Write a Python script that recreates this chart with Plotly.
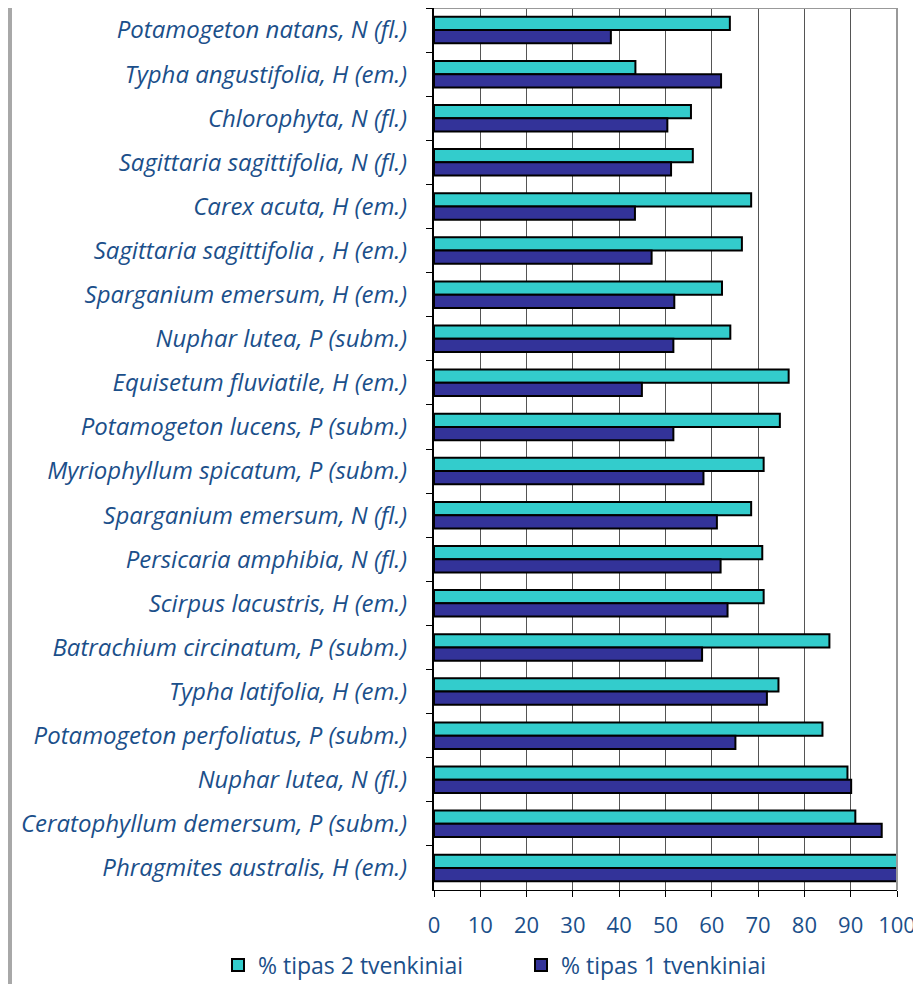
import plotly.graph_objects as go

categories = [
    "Potamogeton natans, N (fl.)",
    "Typha angustifolia, H (em.)",
    "Chlorophyta, N (fl.)",
    "Sagittaria sagittifolia, N (fl.)",
    "Carex acuta, H (em.)",
    "Sagittaria sagittifolia , H (em.)",
    "Sparganium emersum, H (em.)",
    "Nuphar lutea, P (subm.)",
    "Equisetum fluviatile, H (em.)",
    "Potamogeton lucens, P (subm.)",
    "Myriophyllum spicatum, P (subm.)",
    "Sparganium emersum, N (fl.)",
    "Persicaria amphibia, N (fl.)",
    "Scirpus lacustris, H (em.)",
    "Batrachium circinatum, P (subm.)",
    "Typha latifolia, H (em.)",
    "Potamogeton perfoliatus, P (subm.)",
    "Nuphar lutea, N (fl.)",
    "Ceratophyllum demersum, P (subm.)",
    "Phragmites australis, H (em.)",
]
tipas2 = [63.9, 43.5, 55.5, 55.9, 68.5, 66.5, 62.2, 64.0, 76.6, 74.7,
          71.2, 68.5, 70.9, 71.2, 85.4, 74.4, 83.9, 89.3, 91.0, 100.0]
tipas1 = [38.2, 62.0, 50.4, 51.2, 43.4, 47.0, 51.9, 51.7, 44.9, 51.7,
          58.2, 61.1, 61.9, 63.4, 57.9, 71.9, 65.1, 90.1, 96.7, 100.0]
x_ticks = [0, 10, 20, 30, 40, 50, 60, 70, 80, 90, 100]

TEXT = "#1B4F8A"
FONT = "Open Sans"

fig = go.Figure()
fig.add_trace(go.Bar(y=categories, x=tipas2, orientation="h", name="% tipas 2 tvenkiniai",
                     marker=dict(color="#33CCCC", line=dict(color="black", width=2))))
fig.add_trace(go.Bar(y=categories, x=tipas1, orientation="h", name="% tipas 1 tvenkiniai",
                     marker=dict(color="#333399", line=dict(color="black", width=2))))

# page has an 8px body margin; figure coordinates are page coordinates minus 8
OFF = 8
W, H = 921 - OFF, 984 - OFF
ml, mr, mt, mb = 434 - OFF, 24, 0, 94
pw = W - ml - mr
ph = H - mt - mb

def px_x(p):
    return (p - OFF - ml) / pw

def px_y(p):
    return (H - mb - (p - OFF)) / ph

shapes = [
    dict(type="rect", xref="paper", yref="paper", x0=px_x(8), x1=px_x(12), y0=-1, y1=2,
         fillcolor="#a8a8a8", line=dict(width=0), layer="below"),
    # top & right border of plot area
    dict(type="line", xref="paper", yref="paper", x0=0, x1=1, y0=1, y1=1,
         line=dict(color="#999999", width=2)),
    dict(type="line", xref="paper", yref="paper", x0=1, x1=1, y0=0, y1=1,
         line=dict(color="#999999", width=2)),
]

fig.update_layout(
    width=W, height=H,
    margin=dict(l=ml, r=mr, t=mt, b=mb, autoexpand=False),
    paper_bgcolor="white", plot_bgcolor="white",
    barmode="group", bargap=0.4, bargroupgap=0,
    shapes=shapes,
    font=dict(family=FONT, color=TEXT),
    legend=dict(orientation="h", x=px_x(218), xanchor="left", y=px_y(965), yanchor="middle",
                font=dict(family=FONT, size=23, color=TEXT), entrywidth=258,
                itemwidth=30, traceorder="normal"),
    xaxis=dict(range=[0, 100], tickvals=x_ticks, ticktext=[str(v) for v in x_ticks],
               showgrid=True, gridcolor="#555555", gridwidth=1, automargin=False,
               showline=True, linecolor="black", linewidth=1,
               ticks="outside", ticklen=6, tickcolor="black", ticklabelstandoff=10,
               tickfont=dict(family=FONT, size=22, color=TEXT), zeroline=False),
    yaxis=dict(autorange="reversed", type="category", automargin=False,
               showline=True, linecolor="black", linewidth=2,
               ticks="outside", ticklen=6, tickcolor="black", tickson="boundaries",
               ticklabelstandoff=20,
               tickfont=dict(family=FONT, size=24, color=TEXT, style="italic"),
               showgrid=False),
)

fig.write_html("out.html")
